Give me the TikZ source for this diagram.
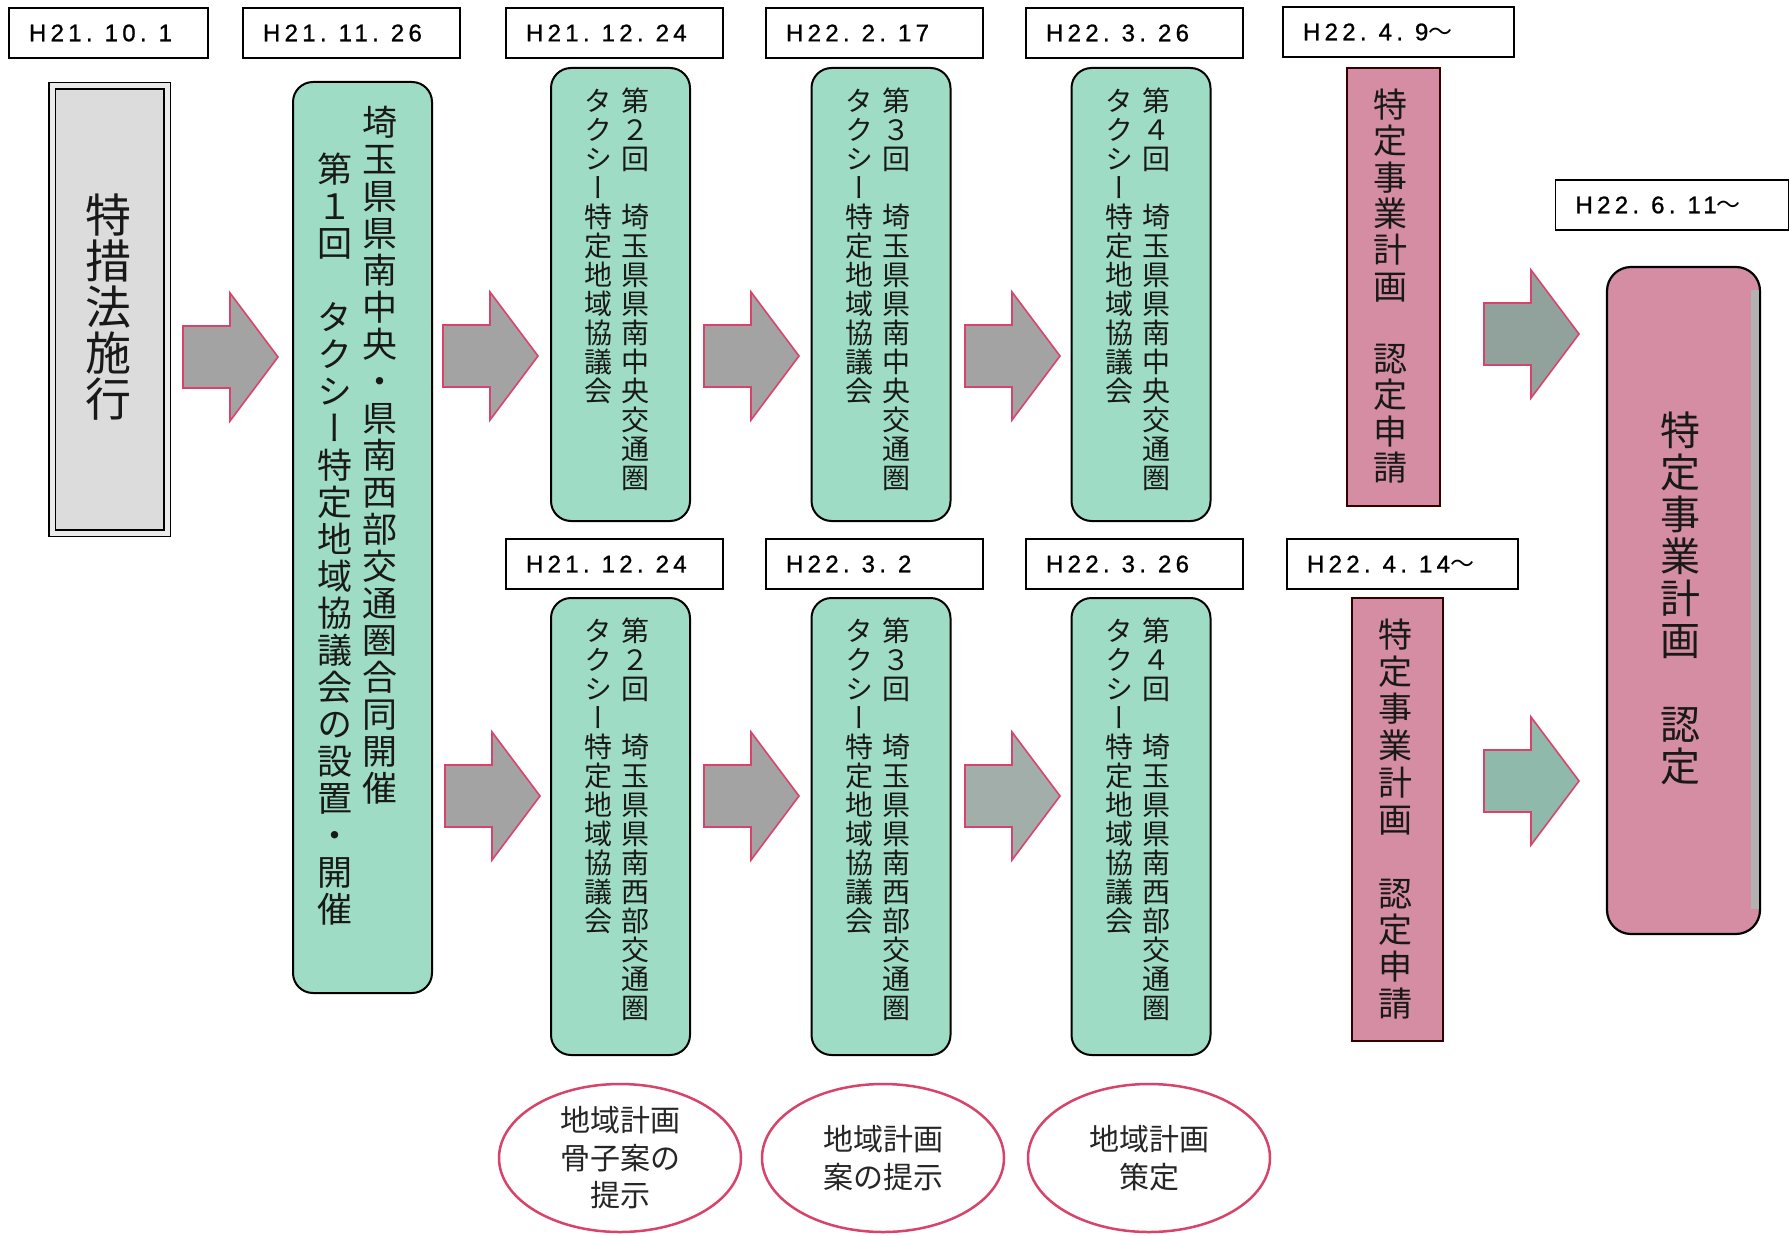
\documentclass[tikz,border=0pt]{standalone}
\usepackage{fontspec}
\setmainfont{Liberation Sans}
\newfontfamily\cjk{Noto Sans CJK JP}
\newfontfamily\cjkv[RawFeature=+vert]{Noto Sans CJK JP}
\newfontfamily\datefont[LetterSpace=18,FakeBold=1]{Liberation Sans}
\usetikzlibrary{shapes.geometric}
\definecolor{mint}{HTML}{9EDCC5}
\definecolor{rose}{HTML}{D48DA3}
\definecolor{lgray}{HTML}{DCDCDC}
\definecolor{crim}{HTML}{D8436B}
\definecolor{agray}{HTML}{A3A3A3}
\makeatletter
\newdimen\vc@step
\def\vc@end{vc@end}
\newcommand\vcolumn[3]{\vbox{\offinterlineskip\fontsize{#1}{#1}\cjkv\vc@step=#2\relax\vc@loop#3\vc@end}}
\def\vc@loop#1{\ifx#1\vc@end\else\hbox to 1em{\vrule height .86\vc@step depth .14\vc@step width 0pt\hss#1\hss}\expandafter\vc@loop\fi}
\makeatother
\newcommand\barrow[2]{\draw[barrowsty, fill=#2] (#1) ++(0,-31) -- ++(47,0) -- ++(0,-33) -- ++(48,64) -- ++(-48,64) -- ++(0,-33) -- ++(-47,0) -- cycle;}
\tikzset{
  datebox/.style={draw, fill=white, line width=1.3pt, inner xsep=20pt, inner ysep=0pt, minimum height=50pt, align=left, font=\fontsize{24}{28}\datefont},
  graybox/.style={draw=black, line width=1.6pt, double=white!92!black, double distance=5pt, fill=lgray, inner sep=0pt},
  greenbox/.style={draw=black, line width=2pt, fill=mint, rounded corners=20pt, inner sep=0pt},
  pinkbox/.style={draw=black!80!red, line width=2pt, fill=rose, inner sep=0pt},
  bigpink/.style={draw=black, line width=2.2pt, fill=rose, rounded corners=24pt, inner sep=0pt},
  vtxt/.style={inner sep=0pt, text=black!90},
  barrowsty/.style={draw=crim, line width=1.6pt, line join=miter},
  ell/.style={ellipse, draw=crim, line width=2.5pt, fill=white, minimum width=242pt, minimum height=148pt, inner sep=0pt, align=center, text=black!85, font=\fontsize{30}{37.5}\cjk}
}
\begin{document}
\begin{tikzpicture}[x=1pt,y=-1pt]
\useasboundingbox (0,0) rectangle (1790,1236);
\fill[white] (0,0) rectangle (1790,1236);

% date boxes
\node[datebox, text width=159pt] (d1) at (108.5,33) {H21. 10. 1};
\node[datebox, text width=177pt] (d2) at (351.5,33) {H21. 11. 26};
\node[datebox, text width=177pt] (d3) at (614.5,33) {H21. 12. 24};
\node[datebox, text width=177pt] (d4) at (874.5,33) {H22. 2. 17};
\node[datebox, text width=177pt] (d5) at (1134.5,33) {H22. 3. 26};
\node[datebox, text width=191pt] (d6) at (1398.5,32) {H22. 4. 9{\cjk ～}};
\node[datebox, text width=193pt] (d7) at (1672,205) {H22. 6. 11{\cjk ～}};
\node[datebox, text width=177pt] (d8) at (614.5,564) {H21. 12. 24};
\node[datebox, text width=177pt] (d9) at (874.5,564) {H22. 3. 2};
\node[datebox, text width=177pt] (d10) at (1134.5,564) {H22. 3. 26};
\node[datebox, text width=191pt] (d11) at (1402.5,564) {H22. 4. 14{\cjk ～}};

% law box
\node[graybox, minimum width=115pt, minimum height=447pt] (law) at (109.5,309.5) {};
\node[vtxt] (lawt) at (108,308) {\vcolumn{46}{46pt}{特措法施行}};

% first meeting
\node[greenbox, minimum width=139pt, minimum height=911pt] (m1) at (362.5,537.5) {};
\node[vtxt, anchor=north] (m1r) at (380,103) {\vcolumn{35}{37pt}{埼玉県県南中央・県南西部交通圏合同開催}};
\node[vtxt, anchor=north] (m1l) at (335,150) {\vcolumn{35}{37pt}{第１回　タクシー特定地域協議会の設置・開催}};

% top row meetings
\node[greenbox, minimum width=139pt, minimum height=453pt] (t2) at (620.5,294.5) {};
\node[greenbox, minimum width=139pt, minimum height=453pt] (t3) at (881,294.5) {};
\node[greenbox, minimum width=139pt, minimum height=453pt] (t4) at (1141,294.5) {};
\node[vtxt, anchor=north] (t2r) at (635,86) {\vcolumn{28}{29pt}{第２回　埼玉県県南中央交通圏}};
\node[vtxt, anchor=north] (t2l) at (598,86) {\vcolumn{28}{29pt}{タクシー特定地域協議会}};
\node[vtxt, anchor=north] (t3r) at (896,86) {\vcolumn{28}{29pt}{第３回　埼玉県県南中央交通圏}};
\node[vtxt, anchor=north] (t3l) at (859,86) {\vcolumn{28}{29pt}{タクシー特定地域協議会}};
\node[vtxt, anchor=north] (t4r) at (1156,86) {\vcolumn{28}{29pt}{第４回　埼玉県県南中央交通圏}};
\node[vtxt, anchor=north] (t4l) at (1119,86) {\vcolumn{28}{29pt}{タクシー特定地域協議会}};

% bottom row meetings
\node[greenbox, minimum width=139pt, minimum height=457pt] (b2) at (620.5,826.5) {};
\node[greenbox, minimum width=139pt, minimum height=457pt] (b3) at (881,826.5) {};
\node[greenbox, minimum width=139pt, minimum height=457pt] (b4) at (1141,826.5) {};
\node[vtxt, anchor=north] (b2r) at (635,616) {\vcolumn{28}{29pt}{第２回　埼玉県県南西部交通圏}};
\node[vtxt, anchor=north] (b2l) at (598,616) {\vcolumn{28}{29pt}{タクシー特定地域協議会}};
\node[vtxt, anchor=north] (b3r) at (896,616) {\vcolumn{28}{29pt}{第３回　埼玉県県南西部交通圏}};
\node[vtxt, anchor=north] (b3l) at (859,616) {\vcolumn{28}{29pt}{タクシー特定地域協議会}};
\node[vtxt, anchor=north] (b4r) at (1156,616) {\vcolumn{28}{29pt}{第４回　埼玉県県南西部交通圏}};
\node[vtxt, anchor=north] (b4l) at (1119,616) {\vcolumn{28}{29pt}{タクシー特定地域協議会}};

% pink application boxes
\node[pinkbox, minimum width=93pt, minimum height=438pt] (p1) at (1393.5,287) {};
\node[vtxt] (p1t) at (1390,286) {\vcolumn{34}{36.3pt}{特定事業計画　認定申請}};
\node[pinkbox, minimum width=91pt, minimum height=443pt] (p2) at (1397.5,819.5) {};
\node[vtxt] (p2t) at (1395,819) {\vcolumn{34}{36.9pt}{特定事業計画　認定申請}};

% approval box
\node[bigpink, minimum width=153pt, minimum height=667pt] (ap) at (1683.5,600.5) {};
\fill[black!30] ([xshift=-10pt,yshift=-24pt]ap.north east) rectangle ([xshift=-2pt,yshift=26pt]ap.south east);
\node[vtxt] (apt) at (1680,598) {\vcolumn{40}{42pt}{特定事業計画　認定}};

% block arrows
\coordinate (a1) at (183,357);
\coordinate (a2) at (443,356);
\coordinate (a3) at (704,356);
\coordinate (a4) at (965,356);
\coordinate (a5) at (1484,334);
\coordinate (a6) at (445,796);
\coordinate (a7) at (704,796);
\coordinate (a8) at (965,796);
\coordinate (a9) at (1484,781);
\barrow{a1}{agray}
\barrow{a2}{agray}
\barrow{a3}{agray}
\barrow{a4}{agray}
\barrow{a5}{agray!70!mint!90!black}
\barrow{a6}{agray}
\barrow{a7}{agray}
\barrow{a8}{agray!80!mint}
\barrow{a9}{mint!75!agray!90!black}

% ellipses
\node[ell] (e1) at (620,1158) {地域計画\\骨子案の\\提示};
\node[ell] (e2) at (883,1158) {地域計画\\案の提示};
\node[ell] (e3) at (1149,1158) {地域計画\\策定};
\end{tikzpicture}
\end{document}
